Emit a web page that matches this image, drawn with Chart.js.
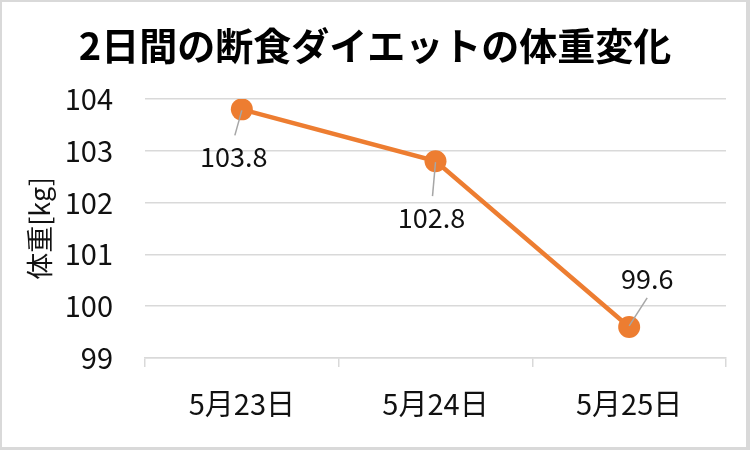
<!DOCTYPE html>
<html>
<head>
<meta charset="utf-8">
<script src="https://cdn.jsdelivr.net/npm/chart.js@4"></script>
<style>
  html, body { margin: 0; padding: 0; background: #fff; }
  #wrap { width: 750px; height: 450px; }
</style>
</head>
<body>
<div id="wrap"><canvas id="c" width="750" height="450"></canvas></div>
<script>
const chartTitle = '2日間の断食ダイエットの体重変化';
const categories = ['5月23日', '5月24日', '5月25日'];
const weights = [103.8, 102.8, 99.6];
const yTicks = [99, 100, 101, 102, 103, 104];
const yAxisTitle = '体重[kg]';

const FONT = '"Noto Sans CJK JP", "Noto Sans", sans-serif';
const ORANGE = '#ED7D31';
const GRID = '#d9d9d9';
const TEXT = '#111111';

const framePlugin = {
  id: 'frame',
  beforeDraw(chart) {
    const ctx = chart.ctx;
    ctx.save();
    ctx.fillStyle = '#fff';
    ctx.fillRect(0, 0, chart.width, chart.height);
    ctx.fillStyle = GRID;
    ctx.fillRect(0, 0, chart.width, 2);
    ctx.fillRect(0, 0, 2, chart.height);
    ctx.fillRect(chart.width - 4, 0, 4, chart.height);
    ctx.fillRect(0, chart.height - 3, chart.width, 3);
    ctx.fillStyle = '#000';
    ctx.font = 'bold 38px ' + FONT;
    ctx.textAlign = 'center';
    ctx.textBaseline = 'middle';
    ctx.fillText(chartTitle, 375, 46);
    ctx.restore();
  }
};

const labelPlugin = {
  id: 'pointLabels',
  afterDatasetsDraw(chart, args, opts) {
    const ctx = chart.ctx;
    const meta = chart.getDatasetMeta(0);
    const offs = opts.offsets;
    ctx.save();
    meta.data.forEach((pt, i) => {
      const o = offs[i];
      const lx = pt.x + o.dx, ly = pt.y + o.dy;
      ctx.strokeStyle = '#a6a6a6';
      ctx.lineWidth = 1.5;
      ctx.beginPath();
      ctx.moveTo(pt.x + o.l0x, pt.y + o.l0y);
      ctx.lineTo(pt.x + o.l1x, pt.y + o.l1y);
      ctx.stroke();
      ctx.fillStyle = TEXT;
      ctx.font = '27px ' + FONT;
      ctx.textAlign = 'center';
      ctx.textBaseline = 'middle';
      ctx.fillText(String(weights[i]), lx, ly);
    });
    ctx.restore();
  }
};

new Chart(document.getElementById('c'), {
  type: 'line',
  data: {
    labels: categories,
    datasets: [{
      data: weights,
      borderColor: ORANGE,
      backgroundColor: ORANGE,
      borderWidth: 4.5,
      pointRadius: 11,
      pointHoverRadius: 11,
      pointBorderWidth: 0,
      tension: 0
    }]
  },
  options: {
    responsive: false,
    animation: false,
    layout: { padding: { top: 99, right: 24, bottom: 0, left: 0 } },
    plugins: {
      legend: { display: false },
      tooltip: { enabled: false },
      title: { display: false },
      pointLabels: {
        offsets: [
          { dx: -8, dy: 47, l0x: 0, l0y: 1, l1x: -7, l1y: 26 },
          { dx: -4, dy: 57, l0x: 0, l0y: 1, l1x: -3, l1y: 35 },
          { dx: 18, dy: -48, l0x: 0, l0y: -1, l1x: 18, l1y: -29 }
        ]
      }
    },
    scales: {
      x: {
        offset: true,
        grid: { offset: true, drawOnChartArea: false, drawTicks: true, tickLength: 9, color: GRID, lineWidth: 1.5 },
        border: { display: true, color: GRID, width: 1.5 },
        ticks: { color: TEXT, font: { family: FONT, size: 29 }, padding: 20, maxRotation: 0 },
        afterFit(s) { s.height = 92; }
      },
      y: {
        min: 99, max: 104,
        afterBuildTicks(s) { s.ticks = yTicks.map(v => ({ value: v })); },
        grid: { color: GRID, drawTicks: false, lineWidth: 1.5 },
        border: { display: false },
        ticks: { color: TEXT, font: { family: FONT, size: 29 }, padding: 32 },
        title: { display: true, text: yAxisTitle, color: TEXT, font: { family: FONT, size: 27, weight: 'normal' }, padding: { top: 24, bottom: 0 } },
        afterFit(s) { s.width = 145; }
      }
    }
  },
  plugins: [framePlugin, labelPlugin]
});
</script>
</body>
</html>
